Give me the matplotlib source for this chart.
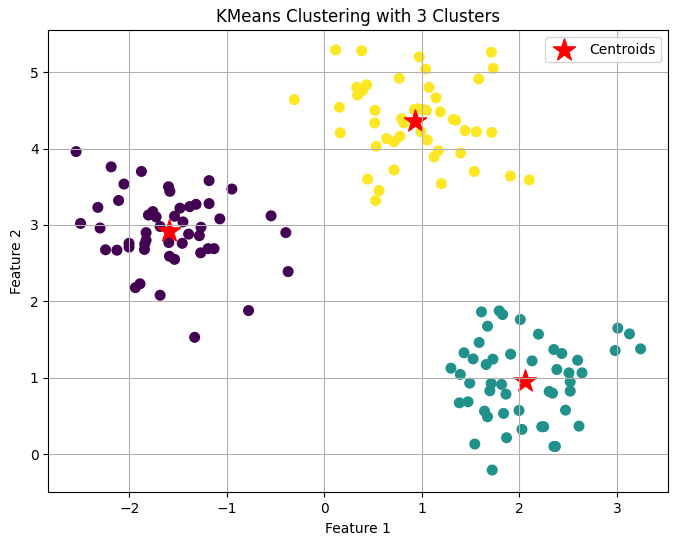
import numpy as np
import matplotlib
matplotlib.use("Agg")
import matplotlib.pyplot as plt

# values, one pair of lists per cluster
x0 = [-2.546, -2.186, -1.876, -2.055, -1.598, -1.584, -1.182, -0.948, -2.11, -2.323,
      -1.182, -1.316, -1.381, -1.481, -1.759, -1.804, -1.725, -1.536, -1.45, -1.072,
      -0.546, -0.395, -2.50, -2.30, -1.684, -1.265, -1.828, -1.282, -1.392, -1.828,
      -1.842, -1.845, -2.003, -2.003, -2.244, -2.127, -1.595, -1.457, -1.268, -1.192,
      -1.131, -1.588, -1.536, -0.371, -1.89, -1.938, -1.684, -0.777, -1.33]
y0 = [3.96, 3.76, 3.70, 3.535, 3.50, 3.44, 3.58, 3.47, 3.32, 3.23,
      3.28, 3.27, 3.24, 3.22, 3.175, 3.13, 3.105, 3.114, 3.04, 3.08,
      3.12, 2.90, 3.02, 2.96, 2.98, 2.97, 2.90, 2.86, 2.88, 2.80,
      2.75, 2.68, 2.76, 2.71, 2.675, 2.67, 2.77, 2.76, 2.635, 2.69,
      2.69, 2.59, 2.55, 2.39, 2.23, 2.18, 2.08, 1.88, 1.53]

x1 = [1.612, 1.794, 1.828, 2.01, 1.674, 2.196, 1.588, 1.433, 2.354, 2.436,
      2.598, 1.526, 1.729, 1.66, 1.911, 2.131, 1.299, 1.395, 2.385, 2.509,
      2.643, 1.491, 1.711, 1.818, 1.698, 1.863, 2.522, 2.522, 2.306, 2.34,
      1.474, 1.385, 1.643, 1.674, 1.838, 1.997, 2.474, 2.23, 2.25, 2.612,
      2.027, 1.869, 1.543, 2.355, 2.37, 1.722, 3.01, 3.13, 2.983, 3.244]
y1 = [1.863, 1.876, 1.828, 1.763, 1.675, 1.571, 1.462, 1.327, 1.37, 1.318,
      1.23, 1.248, 1.244, 1.174, 1.309, 1.222, 1.126, 1.044, 1.109, 1.065,
      1.065, 0.93, 0.926, 0.913, 0.83, 0.786, 0.948, 0.826, 0.821, 0.80,
      0.686, 0.673, 0.564, 0.49, 0.534, 0.573, 0.577, 0.36, 0.36, 0.368,
      0.325, 0.216, 0.133, 0.102, 0.102, -0.207, 1.65, 1.575, 1.357, 1.379]

x2 = [0.116, 0.383, 0.974, 1.039, 1.713, 1.733, 0.769, 1.583, 0.434, 0.332,
      0.393, 0.342, 1.074, 1.145, -0.308, 0.154, 0.52, 0.516, 0.923, 0.957,
      1.015, 1.046, 1.19, 1.323, 1.347, 0.793, 0.817, 1.443, 1.559, 1.716,
      0.164, 0.991, 0.776, 0.639, 0.715, 1.056, 0.533, 1.169, 1.125, 1.398,
      0.715, 1.538, 0.444, 1.908, 2.103, 1.2, 0.561, 0.526]
y2 = [5.29, 5.28, 5.20, 5.04, 5.26, 5.05, 4.92, 4.91, 4.835, 4.80,
      4.76, 4.70, 4.80, 4.665, 4.64, 4.54, 4.50, 4.335, 4.51, 4.52,
      4.51, 4.50, 4.48, 4.38, 4.37, 4.39, 4.335, 4.235, 4.22, 4.21,
      4.205, 4.22, 4.16, 4.13, 4.09, 4.11, 4.03, 3.97, 3.89, 3.94,
      3.72, 3.70, 3.60, 3.64, 3.59, 3.54, 3.45, 3.32]

centroid_x = [-1.588, 0.933, 2.062]
centroid_y = [2.917, 4.365, 0.956]

X = np.array(x0 + x1 + x2)
Y = np.array(y0 + y1 + y2)
labels = np.array([0] * len(x0) + [1] * len(x1) + [2] * len(x2))

fig = plt.figure(figsize=(6.78, 5.45), dpi=100)
ax = fig.add_axes([48.3 / 678, 52.7 / 545, 620 / 678, 462 / 545])

ax.scatter(X, Y, c=labels, s=48, cmap='viridis')
ax.scatter(centroid_x, centroid_y, s=280, c='red', marker='*', label='Centroids')

ax.set_xlim(-2.831, 3.528)
ax.set_ylim(-0.498, 5.547)
ax.set_title('KMeans Clustering with 3 Clusters')
ax.set_xlabel('Feature 1')
ax.set_ylabel('Feature 2')
ax.legend()
ax.grid(True)

fig.savefig('out.png', dpi=100)
